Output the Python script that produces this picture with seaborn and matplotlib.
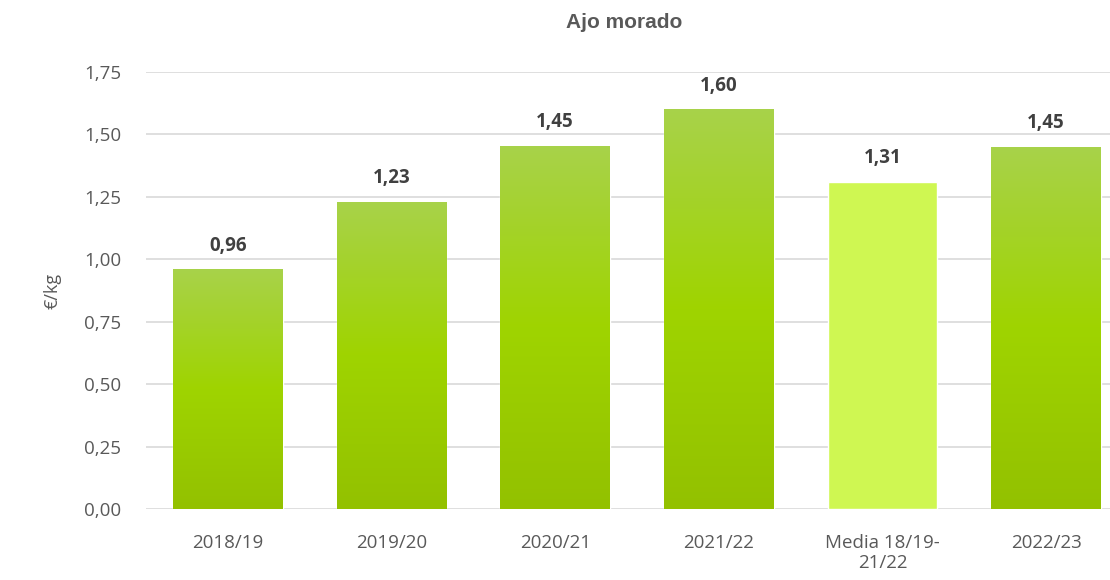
import numpy as np
import pandas as pd
import matplotlib
matplotlib.use('Agg')
import matplotlib.pyplot as plt
from matplotlib.colors import LinearSegmentedColormap
import seaborn as sns

# ── Data ───────────────────────────────────────────────
campaigns = ['2018/19', '2019/20', '2020/21', '2021/22', 'Media 18/19-\n21/22', '2022/23']
prices = [0.96, 1.23, 1.455, 1.60, 1.31, 1.45]
labels = ['0,96', '1,23', '1,45', '1,60', '1,31', '1,45']
yticks = [0, 0.25, 0.5, 0.75, 1.0, 1.25, 1.5, 1.75]

df = pd.DataFrame({'campaign': campaigns, 'price': prices})

sns.set_theme(style='white')
plt.rcParams['font.family'] = ['Open Sans', 'DejaVu Sans']

fig = plt.figure(figsize=(11.1, 5.8), dpi=100)
ax = fig.add_axes([0.1315, 0.1224, 0.8685, 0.7535])

sns.barplot(data=df, x='campaign', y='price', color='#9fd400', width=0.67,
            ax=ax, zorder=3)

# gradient fill for the bars, flat colour for the average bar
grad = LinearSegmentedColormap.from_list('g', ['#93c100', '#9fd400', '#a8d24a'])
for i, bar in enumerate(ax.patches):
    x0, y0 = bar.get_x(), bar.get_y()
    w, h = bar.get_width(), bar.get_height()
    if i == 4:
        bar.set_facecolor('#cff752')
        continue
    bar.set_facecolor('none')
    img = ax.imshow(np.linspace(0, 1, 256).reshape(-1, 1), cmap=grad, aspect='auto',
                    origin='lower', extent=[x0, x0 + w, y0, y0 + h], zorder=3)
    img.set_clip_path(bar)

for i, v in enumerate(prices):
    ax.text(i, v + 0.055, labels[i], ha='center', va='bottom', fontsize=13.5,
            fontweight='bold', color='#404040')

ax.set_xlim(-0.5, 5.39)
ax.set_ylim(0, 1.75)
ax.set_yticks(yticks)
ax.set_yticklabels([f'{t:.2f}'.replace('.', ',') for t in yticks])
ax.grid(axis='y', color='#d9d9d9', linewidth=1.2, zorder=0)
ax.set_axisbelow(True)
for s in ax.spines.values():
    s.set_visible(False)
ax.tick_params(axis='y', length=0, labelsize=13.5, labelcolor='#595959', pad=18)
ax.tick_params(axis='x', length=0, labelsize=13.5, labelcolor='#595959', pad=18)
for t in ax.get_xticklabels():
    t.set_linespacing(1.15)
ax.set_xlabel('')
ax.set_ylabel('€/kg', fontsize=13, color='#595959', labelpad=16)

fig.text(0.562, 0.962, 'Ajo morado', ha='center', va='center', fontsize=15,
         fontweight='bold', color='#595959', family='Liberation Sans')

fig.savefig('out.png', dpi=100)
